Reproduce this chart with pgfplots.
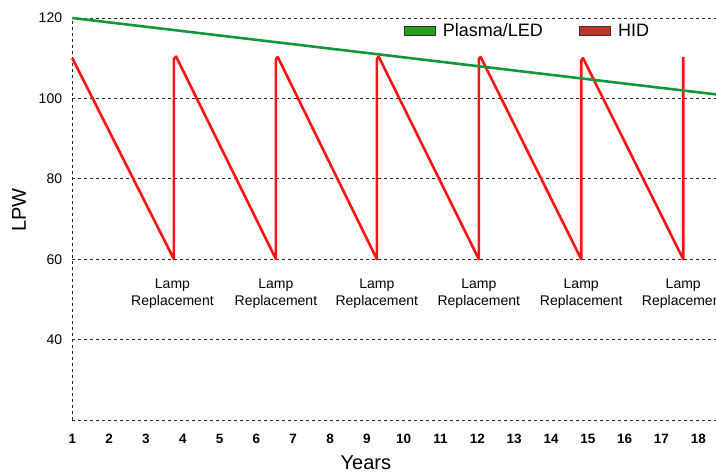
\documentclass[border=0pt]{standalone}
\usepackage{pgfplots}
\pgfplotsset{compat=1.18}
\usepackage{fontspec}
\setmainfont{Liberation Sans}
\definecolor{ledgreen}{RGB}{20,150,60}
\definecolor{legendgreen}{RGB}{40,160,30}
\definecolor{legendred}{RGB}{195,50,40}
\definecolor{hidred}{RGB}{255,20,20}

\begin{document}
\begin{tikzpicture}
\begin{axis}[
    scale only axis,
    width=643.7pt, height=402pt,
    xmin=1, xmax=18.48,
    ymin=20, ymax=120,
    clip=false,
    axis line style={draw=none},
    major tick length=0pt,
    xtick={1,...,18},
    ytick={20,40,...,120},
    yticklabels={,40,60,80,100,120},
    ymajorgrids,
    extra x ticks={1},
    extra x tick labels={},
    extra x tick style={xmajorgrids},
    grid style={black!85, line width=0.8pt, dash pattern=on 3pt off 3pt},
    /pgf/number format/assume math mode=true,
    xticklabel style={font=\bfseries\fontsize{13.5}{13.5}\selectfont, inner sep=0pt, anchor=north, yshift=-14pt},
    yticklabel style={font=\fontsize{14}{14}\selectfont, inner sep=0pt, anchor=east, xshift=-10pt},
    xlabel={Years},
    ylabel={LPW},
    xlabel style={font=\fontsize{20}{20}\selectfont, at={(axis description cs:0.456,0)}, anchor=center, yshift=-42.5pt},
    ylabel style={font=\fontsize{20}{20}\selectfont, at={(axis description cs:0,0.522)}, anchor=center, yshift=53.3pt},
    legend columns=2,
    legend style={draw=none, fill=none, inner sep=0pt,
        at={(axis description cs:0.5145,0.968)}, anchor=west,
        font=\fontsize{18}{18}\selectfont,
        /tikz/every even column/.append style={column sep=34pt}},
]
\coordinate (bl) at (rel axis cs:0,0);
\coordinate (tr) at (rel axis cs:1,1);

% HID lamp output, replaced every ~2.77 years
\addplot[hidred, line width=2.6pt, line join=round, forget plot] coordinates {
    (1,110) (3.76,60) (3.76,109.8) (3.82,110.4)
    (6.53,60) (6.53,109.8) (6.58,110.3)
    (9.27,60) (9.27,109.8) (9.32,110.4)
    (12.04,60) (12.04,109.8) (12.09,110.3)
    (14.82,60) (14.82,109.5) (14.87,110.0)
    (17.59,60) (17.59,110.3)
};
% Plasma/LED
\addplot[ledgreen, line width=2.6pt, forget plot] coordinates {
    (1,120) (5,115.65) (9,111.3) (13,106.95) (18.48,101)
};

\addlegendimage{legend image code/.code={\draw[fill=legendgreen, draw=black!80, thin] (0pt,-4.5pt) rectangle (31pt,4.5pt); \path[draw=none, fill=none] (0pt,0pt) -- (37pt,0pt);}}
\addlegendentry{Plasma/LED}
\addlegendimage{legend image code/.code={\draw[fill=legendred, draw=black!80, thin] (0pt,-4.5pt) rectangle (31pt,4.5pt); \path[draw=none, fill=none] (0pt,0pt) -- (37pt,0pt);}}
\addlegendentry{HID}

\pgfplotsinvokeforeach{3.72,6.53,9.27,12.04,14.82,17.59}{
    \node[font=\fontsize{14}{16.5}\selectfont, align=center, anchor=north, inner sep=0pt, yshift=-19.5pt]
        at (axis cs:#1,60) {Lamp\\Replacement};
}
\end{axis}
\pgfresetboundingbox
\path[use as bounding box] ([shift={(-72.3pt,-52pt)}]bl) rectangle ([shift={(0pt,18pt)}]tr);
\end{tikzpicture}
\end{document}
